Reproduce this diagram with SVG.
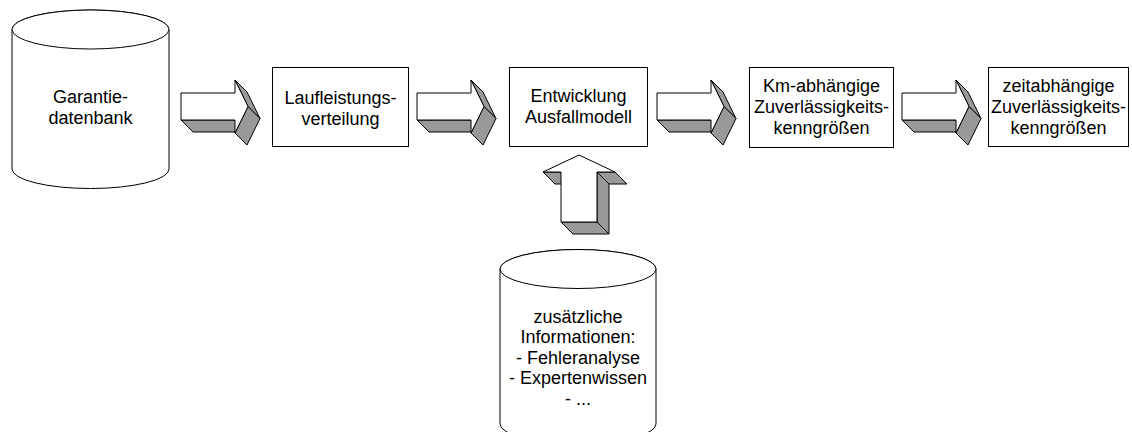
<svg xmlns="http://www.w3.org/2000/svg" width="1132" height="432" viewBox="0 0 1132 432">
  <style>
    .shape { fill: #ffffff; stroke: #000000; stroke-width: 1; }
    .side { fill: #999999; stroke: #000000; stroke-width: 1; stroke-linejoin: round; }
    .label { font-family: "Liberation Sans", Arial, sans-serif; font-size: 18px; fill: #000000; text-anchor: middle; }
  </style>
  <defs>
    <!-- 3D block arrow pointing right, shaft starts at x=0 -->
    <g id="arrow-right">
      <path class="side" d="M0,120 H54 L66,132 H12 Z"/>
      <path class="side" d="M54,80 L67,106.5 L79,118.5 L66,92 Z"/>
      <path class="side" d="M67,106.5 L54,133 L66,145 L79,118.5 Z"/>
      <path class="shape" d="M0,93 H54 V80 L67,106.5 L54,133 V120 H0 Z"/>
    </g>
  </defs>

  <!-- source database -->
  <g id="garantiedatenbank">
    <path class="shape" d="M12,29.5 V169 A78.5,19.5 0 0 0 169,169 V29.5 A78.5,19.5 0 0 0 12,29.5 Z"/>
    <ellipse class="shape" cx="90.5" cy="29.5" rx="78.5" ry="19.5"/>
    <text class="label" x="90.5" y="102.5">Garantie-</text>
    <text class="label" x="90.5" y="124">datenbank</text>
  </g>

  <g id="laufleistungsverteilung">
    <rect class="shape" x="272.5" y="67.5" width="136" height="79"/>
    <text class="label" x="340.5" y="103.5">Laufleistungs-</text>
    <text class="label" x="340.5" y="124.5">verteilung</text>
  </g>

  <g id="ausfallmodell">
    <rect class="shape" x="509.5" y="67.5" width="138" height="79"/>
    <text class="label" x="578.5" y="101.5">Entwicklung</text>
    <text class="label" x="578.5" y="123">Ausfallmodell</text>
  </g>

  <g id="km-kenngroessen">
    <rect class="shape" x="749.5" y="67.5" width="144" height="80"/>
    <text class="label" x="821.5" y="91.5">Km-abhängige</text>
    <text class="label" x="821.5" y="112.5">Zuverlässigkeits-</text>
    <text class="label" x="821.5" y="133.5">kenngrößen</text>
  </g>

  <g id="zeit-kenngroessen">
    <rect class="shape" x="988.5" y="67.5" width="140" height="79"/>
    <text class="label" x="1058.5" y="91.5">zeitabhängige</text>
    <text class="label" x="1058.5" y="112.5">Zuverlässigkeits-</text>
    <text class="label" x="1058.5" y="133.5">kenngrößen</text>
  </g>

  <!-- additional information database -->
  <g id="zusatzinformationen">
    <path class="shape" d="M500,269 V424 A78,19.5 0 0 0 656,424 V269 A78,19.5 0 0 0 500,269 Z"/>
    <ellipse class="shape" cx="578" cy="269" rx="78" ry="19.5"/>
    <text class="label" x="578" y="322.5">zusätzliche</text>
    <text class="label" x="578" y="343">Informationen:</text>
    <text class="label" x="578" y="363.5">- Fehleranalyse</text>
    <text class="label" x="578" y="384">- Expertenwissen</text>
    <text class="label" x="578" y="404.5">- ...</text>
  </g>

  <!-- connectors: 3D block arrows -->
  <g id="connectors">
    <use href="#arrow-right" x="181" y="0"/>
    <use href="#arrow-right" x="417" y="0"/>
    <use href="#arrow-right" x="657" y="0"/>
    <use href="#arrow-right" x="902" y="0"/>
    <g id="arrow-up">
      <path class="side" d="M561,222 H597 L609,234 H573 Z"/>
      <path class="side" d="M597,172 L609,184 V234 L597,222 Z"/>
      <path class="side" d="M543,172 H561 L573,184 H555 Z"/>
      <path class="side" d="M597,172 H615 L627,184 H609 Z"/>
      <path class="shape" d="M561,222 V172 H543 L579,155 L615,172 H597 V222 Z"/>
    </g>
  </g>
</svg>
